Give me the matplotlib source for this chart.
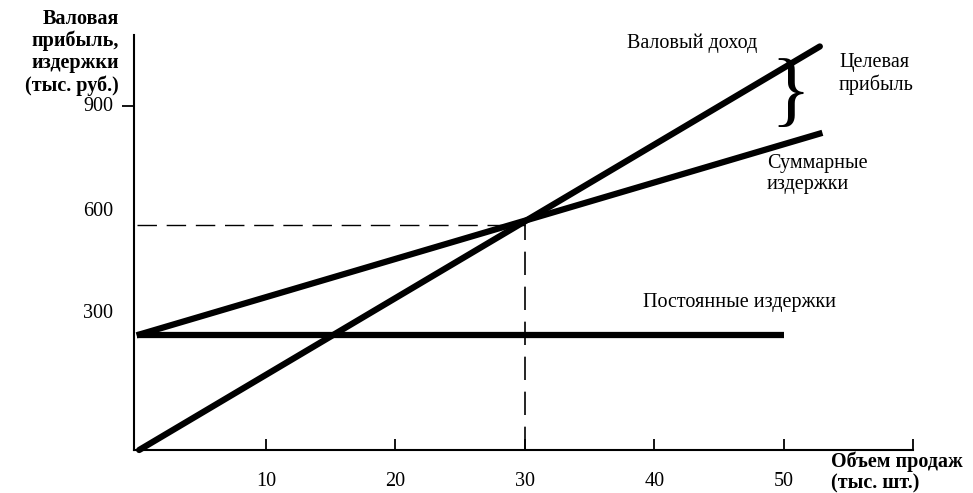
import numpy as np
import matplotlib.pyplot as plt

plt.rcParams['font.family'] = ['Liberation Serif', 'DejaVu Serif']

# данные (тыс. шт. / тыс. руб.)
объем = [0, 53]
пост_x = [0, 50]
пост_издержки = [300, 300]
сумм_издержки = [300, 830]
доход_x = [0.2, 52.8]
валовый_доход = [0, 1056]
безубыт_x = 30
безубыт_y = 600

x_ticks = [10, 20, 30, 40, 50, 60]
x_labels = ['10', '20', '30', '40', '50', '']
y_labels = [300, 600, 900]
y_label_shift = [22, 9, 0]  # подписи в оригинале сдвинуты вверх

fig = plt.figure(figsize=(9.73, 4.93), dpi=100)
ax = fig.add_axes([134/973, 1 - 450/493, (913 - 134)/973, (450 - 35)/493])
ax.set_xlim(-0.2, 60)
ax.set_ylim(0, 1086)

lw = 4.5
ax.plot(пост_x, пост_издержки, color='black', lw=lw, solid_capstyle='butt', clip_on=False)
ax.plot(объем, сумм_издержки, color='black', lw=lw, solid_capstyle='butt', clip_on=False)
ax.plot(доход_x, валовый_доход, color='black', lw=lw, solid_capstyle='round', clip_on=False)

# пунктир точки безубыточности
ax.plot([0, безубыт_x], [безубыт_y - 10, безубыт_y - 10], color='black', lw=1.0, dashes=(14, 7))
ax.plot([безубыт_x, безубыт_x], [0, безубыт_y], color='black', lw=1.2, dashes=(14, 7))

for s in ['top', 'right']:
    ax.spines[s].set_visible(False)
for s in ['left', 'bottom']:
    ax.spines[s].set_linewidth(1.5)

ax.set_xticks(x_ticks)
ax.set_xticklabels(x_labels, fontsize=14.5)
ax.tick_params(axis='x', direction='in', length=8, width=1.3, pad=16)

ax.set_yticks([900])
ax.set_yticklabels([''])
ax.tick_params(axis='y', direction='out', length=9, width=1.3)
for v, dy in zip(y_labels, y_label_shift):
    ax.annotate(str(v), xy=(0, v), xytext=(-21, dy), textcoords='offset pixels',
                xycoords=('axes fraction', 'data'), ha='right', va='center', fontsize=14.5)

# подписи осей
fig.text(119/973, 1 - 9/493, 'Валовая\nприбыль,\nиздержки\n(тыс. руб.)',
         ha='right', va='top', fontsize=14.5, fontweight='bold', linespacing=1.12)
fig.text(831/973, 1 - 451/493, 'Объем продаж\n(тыс. шт.)',
         ha='left', va='top', fontsize=14.5, fontweight='bold', linespacing=1.1)

# подписи линий
fig.text(627/973, 1 - 43/493, 'Валовый доход', ha='left', va='center', fontsize=14.5)
fig.text(839/973, 1 - 74/493, 'Целевая\nприбыль', ha='left', va='center', fontsize=14.5, linespacing=1.1)
fig.text(767/973, 1 - 174/493, 'Суммарные\nиздержки', ha='left', va='center', fontsize=14.5, linespacing=1.1)
fig.text(643/973, 1 - 303/493, 'Постоянные издержки', ha='left', va='center', fontsize=14.5)
fig.text(790/973, 1 - 96/493, '}', ha='center', va='center', fontsize=60, fontweight='light')

fig.savefig('out.png', dpi=100)
